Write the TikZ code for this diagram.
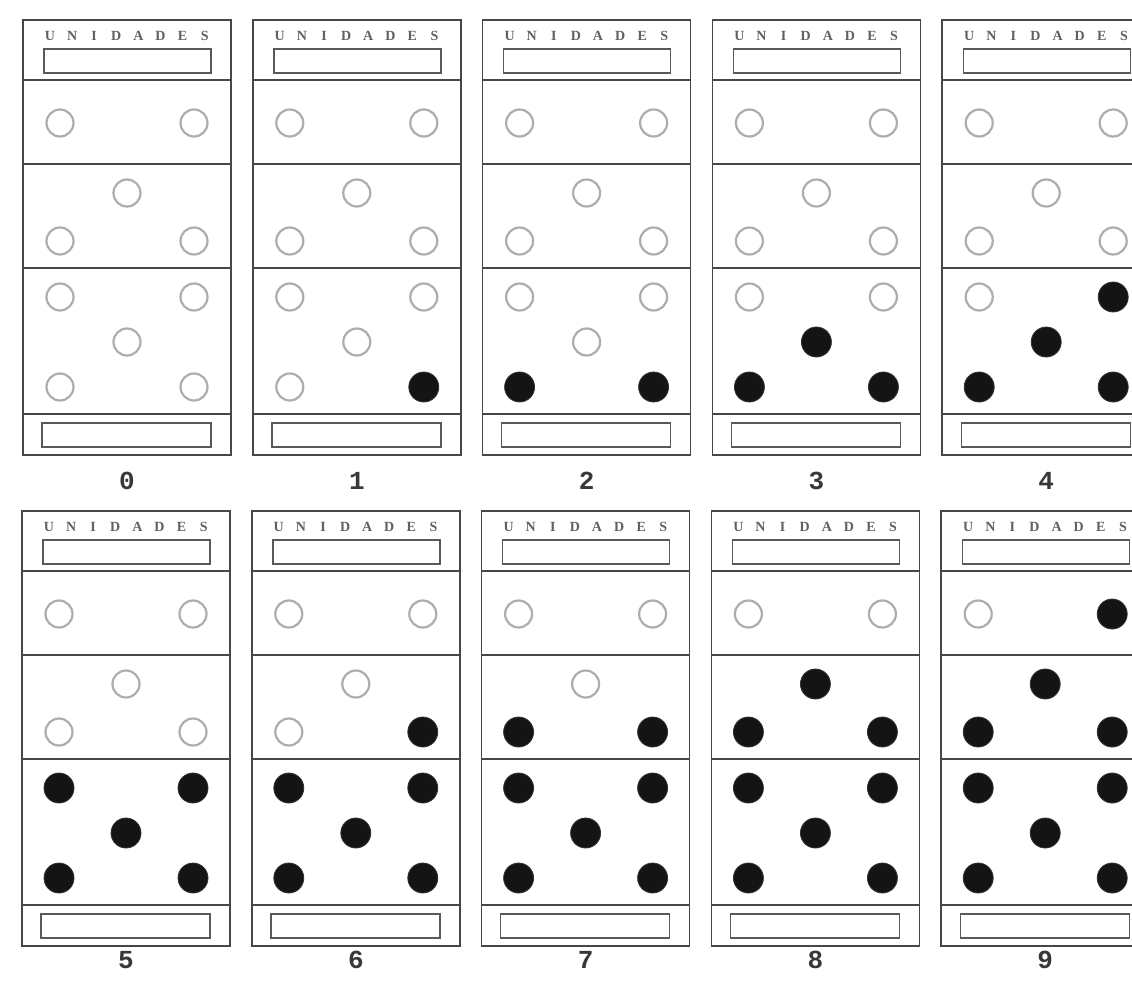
\documentclass[tikz,border=0pt]{standalone}
\usepackage{fontspec}
\newfontfamily\digitfont{Liberation Mono}
\newfontfamily\unifont{Liberation Serif}
\begin{document}
\begin{tikzpicture}[x=1pt,y=-1pt,
  panelline/.style={draw=black!72,line width=1.6pt},
  innerbox/.style={draw=black!65,line width=1.4pt},
  emptydot/.style={draw=black!32,line width=2.2pt,fill=white},
  fulldot/.style={fill=black!92,draw=black!80,line width=0.8pt},
  unilabel/.style={font=\unifont\bfseries\fontsize{14}{14}\selectfont,text=black!62,inner sep=0pt,anchor=center},
  digitlabel/.style={font=\digitfont\bfseries\fontsize{26}{26}\selectfont,text=black!78,inner sep=0pt,anchor=center}]
\fill[white] (0,0) rectangle (1132,980);
\clip (0,0) rectangle (1132,980);
\foreach \n in {0,...,9}{
  \pgfmathtruncatemacro\col{mod(\n,5)}
  \pgfmathtruncatemacro\row{int(\n/5)}
  \pgfmathsetmacro\px{23+229.8*\col-\row}
  \pgfmathsetmacro\py{491*\row}
  \pgfmathsetmacro\ly{481-12*\row}
  \begin{scope}[shift={(\px,\py)}]
    % outer frame and dividers
    \draw[panelline] (0,20) rectangle (208,455);
    \draw[panelline] (0,80) -- (208,80);
    \draw[panelline] (0,164) -- (208,164);
    \draw[panelline] (0,268) -- (208,268);
    \draw[panelline] (0,414) -- (208,414);
    % header
    \foreach \l [count=\i from 0] in {U,N,I,D,A,D,E,S}{
      \node[unilabel] (u\n-\i) at (27+22.1*\i,36) {\l};
    }
    \draw[innerbox] (21,49) rectangle (188,73);
    % footer box
    \draw[innerbox] (19,423) rectangle (188,447);
    % dots in filling order
    \foreach \k/\cx/\cy in {1/171/387,2/37/387,3/104/342,4/171/297,5/37/297,
                            6/171/241,7/37/241,8/104/193,9/171/123,10/37/123}{
      \ifnum\k>\n
        \draw[emptydot] (\cx,\cy) circle (13.5);
      \else
        \fill[fulldot] (\cx,\cy) circle (15);
      \fi
    }
    \node[digitlabel] (d\n) at (104,\ly) {\n};
  \end{scope}
}
\end{tikzpicture}
\end{document}
